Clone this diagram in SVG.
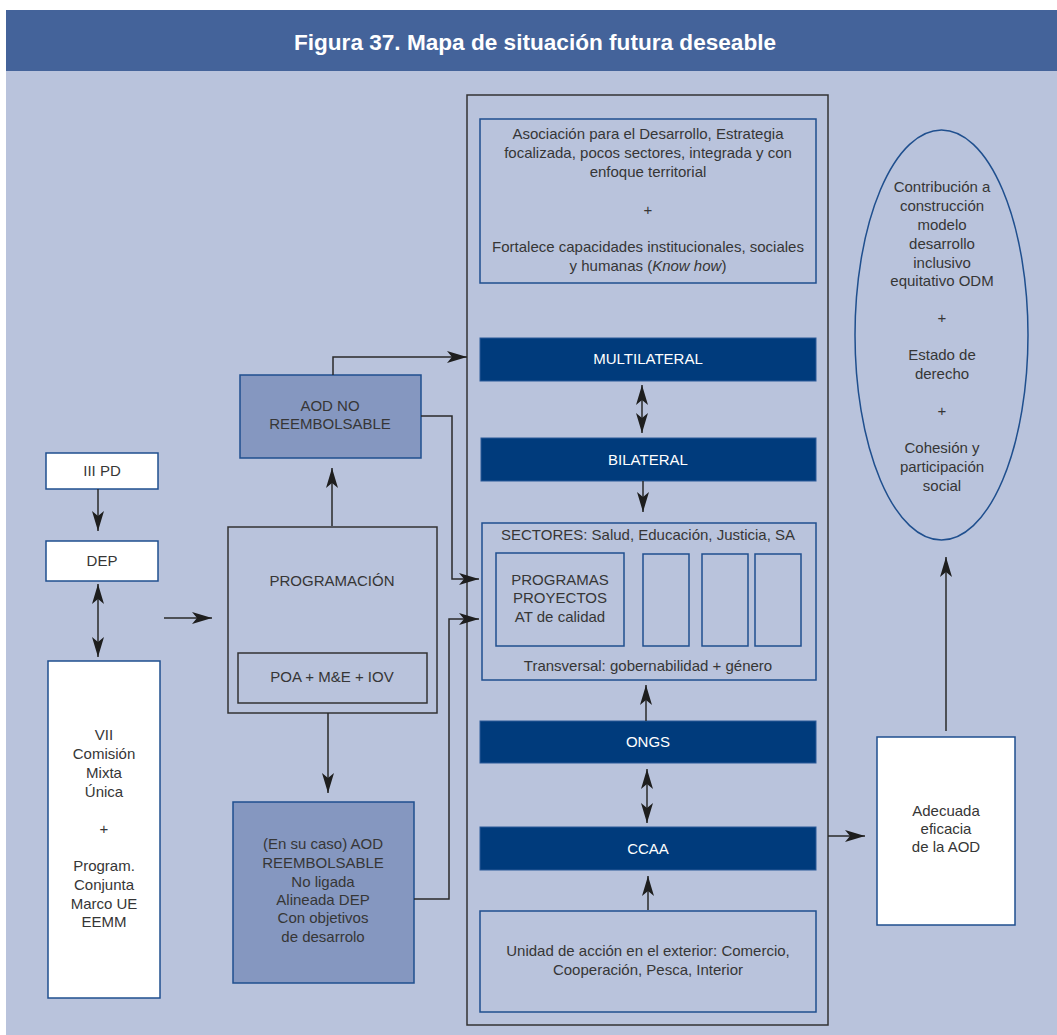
<svg xmlns="http://www.w3.org/2000/svg" width="1057" height="1035" viewBox="0 0 1057 1035">
<defs>
<style>
.t{font-family:"Liberation Sans",Arial,sans-serif;font-size:15px;fill:#363636;text-anchor:middle}
.w{fill:#ffffff}
.title{font-family:"Liberation Sans",Arial,sans-serif;font-size:22.6px;font-weight:bold;fill:#ffffff;text-anchor:middle}
.bx{fill:none;stroke:#1f4f8e;stroke-width:1.5}
.wb{fill:#ffffff;stroke:#1f4f8e;stroke-width:1.5}
.mb{fill:#8597c0;stroke:#1f4f8e;stroke-width:1.5}
.db{fill:#003b7c;stroke:#2a5a98;stroke-width:1}
.kb{fill:none;stroke:#333;stroke-width:1.5}
.c{fill:none;stroke:#2a2a2a;stroke-width:1.5}
.a{marker-end:url(#ah)}
.d{marker-start:url(#ah);marker-end:url(#ah)}
</style>
<marker id="ah" viewBox="0 0 20 12" refX="20" refY="6" markerWidth="20" markerHeight="12" markerUnits="userSpaceOnUse" orient="auto-start-reverse">
<path d="M0,0 L20,6 L0,12 L5,6 Z" fill="#1e1e1e"/>
</marker>
</defs>
<rect x="0" y="0" width="1057" height="1035" fill="#ffffff"/>
<rect x="6" y="71" width="1051" height="964" fill="#b9c3dc"/>
<rect x="6" y="10" width="1051" height="61" fill="#44639a"/>
<text class="title" x="535" y="50">Figura 37. Mapa de situación futura deseable</text>

<g id="contenedor"><rect class="kb" x="467" y="95" width="361" height="930"/></g>

<g id="asociacion">
<rect class="bx" x="480" y="119" width="336" height="164"/>
<text class="t" x="648" y="139">Asociación para el Desarrollo, Estrategia</text>
<text class="t" x="648" y="158">focalizada, pocos sectores, integrada y con</text>
<text class="t" x="648" y="177">enfoque territorial</text>
<text class="t" x="648" y="215">+</text>
<text class="t" x="648" y="252">Fortalece capacidades institucionales, sociales</text>
<text class="t" x="648" y="271">y humanas (<tspan font-style="italic">Know how</tspan>)</text>
</g>

<g id="multilateral"><rect class="db" x="480" y="338" width="336" height="43"/><text class="t w" x="648" y="364">MULTILATERAL</text></g>
<g id="bilateral"><rect class="db" x="481" y="438" width="335" height="43"/><text class="t w" x="648" y="465">BILATERAL</text></g>

<g id="sectores">
<rect class="bx" x="482" y="523" width="334" height="157"/>
<text class="t" x="648" y="540">SECTORES: Salud, Educación, Justicia, SA</text>
<rect class="bx" x="496" y="553" width="128" height="93"/>
<text class="t" x="560" y="585">PROGRAMAS</text>
<text class="t" x="560" y="603">PROYECTOS</text>
<text class="t" x="560" y="622">AT de calidad</text>
<rect class="bx" x="643" y="554" width="46" height="92"/>
<rect class="bx" x="702" y="554" width="46" height="92"/>
<rect class="bx" x="755" y="554" width="46" height="92"/>
<text class="t" x="648" y="671">Transversal: gobernabilidad + género</text>
</g>

<g id="ongs"><rect class="db" x="480" y="721" width="336" height="42"/><text class="t w" x="648" y="747">ONGS</text></g>
<g id="ccaa"><rect class="db" x="480" y="827" width="336" height="43"/><text class="t w" x="648" y="854">CCAA</text></g>

<g id="unidad">
<rect class="bx" x="480" y="911" width="336" height="101"/>
<text class="t" x="648" y="956">Unidad de acción en el exterior: Comercio,</text>
<text class="t" x="648" y="975">Cooperación, Pesca, Interior</text>
</g>

<g id="iiipd"><rect class="wb" x="46" y="453" width="112" height="36"/><text class="t" x="102" y="476">III PD</text></g>
<g id="dep"><rect class="wb" x="46" y="541" width="112" height="40"/><text class="t" x="102" y="566">DEP</text></g>
<g id="comision">
<rect class="wb" x="48" y="661" width="112" height="337"/>
<text class="t" x="104" y="740">VII</text>
<text class="t" x="104" y="759">Comisión</text>
<text class="t" x="104" y="778">Mixta</text>
<text class="t" x="104" y="797">Única</text>
<text class="t" x="104" y="834">+</text>
<text class="t" x="104" y="871">Program.</text>
<text class="t" x="104" y="890">Conjunta</text>
<text class="t" x="104" y="909">Marco UE</text>
<text class="t" x="104" y="927">EEMM</text>
</g>

<g id="programacion">
<rect class="kb" x="228" y="527" width="209" height="186"/>
<text class="t" x="332" y="586">PROGRAMACIÓN</text>
<rect class="kb" x="238" y="653" width="189" height="50"/>
<text class="t" x="332" y="682">POA + M&amp;E + IOV</text>
</g>

<g id="aod-no"><rect class="mb" x="240" y="375" width="181" height="83"/>
<text class="t" x="330" y="411">AOD NO</text><text class="t" x="330" y="429">REEMBOLSABLE</text></g>

<g id="aod-reemb"><rect class="mb" x="233" y="802" width="181" height="181"/>
<text class="t" x="323" y="849">(En su caso) AOD</text>
<text class="t" x="323" y="868">REEMBOLSABLE</text>
<text class="t" x="323" y="887">No ligada</text>
<text class="t" x="323" y="905">Alineada DEP</text>
<text class="t" x="323" y="923">Con objetivos</text>
<text class="t" x="323" y="942">de desarrolo</text>
</g>

<g id="adecuada"><rect class="wb" x="877" y="737" width="138" height="188"/>
<text class="t" x="946" y="816">Adecuada</text><text class="t" x="946" y="834">eficacia</text><text class="t" x="946" y="852">de la AOD</text></g>

<g id="resultado">
<ellipse cx="941.5" cy="335" rx="86.5" ry="205" fill="none" stroke="#1f4f8e" stroke-width="1.5"/>
<text class="t" x="942" y="192">Contribución a</text>
<text class="t" x="942" y="211">construcción</text>
<text class="t" x="942" y="230">modelo</text>
<text class="t" x="942" y="249">desarrollo</text>
<text class="t" x="942" y="268">inclusivo</text>
<text class="t" x="942" y="286">equitativo ODM</text>
<text class="t" x="942" y="323">+</text>
<text class="t" x="942" y="360">Estado de</text>
<text class="t" x="942" y="379">derecho</text>
<text class="t" x="942" y="416">+</text>
<text class="t" x="942" y="453">Cohesión y</text>
<text class="t" x="942" y="472">participación</text>
<text class="t" x="942" y="491">social</text>
</g>

<g id="conectores">
<path class="c a" d="M98,489 L98,531"/>
<path class="c d" d="M98,584 L98,657"/>
<path class="c a" d="M164,618 L212,618"/>
<path class="c a" d="M332,526 L332,468"/>
<path class="c a" d="M333,375 L333,357 L467,357"/>
<path class="c a" d="M421,416 L452,416 L452,579 L479,579"/>
<path class="c a" d="M328,713 L328,793"/>
<path class="c a" d="M414,899 L449,899 L449,619 L479,619"/>
<path class="c d" d="M642,385 L642,433"/>
<path class="c a" d="M643,481 L643,512"/>
<path class="c a" d="M646,721 L646,685"/>
<path class="c d" d="M647,769 L647,823"/>
<path class="c a" d="M648,910 L648,876"/>
<path class="c a" d="M828,836 L865,836"/>
<path class="c a" d="M946,731 L946,557"/>
</g>
</svg>
